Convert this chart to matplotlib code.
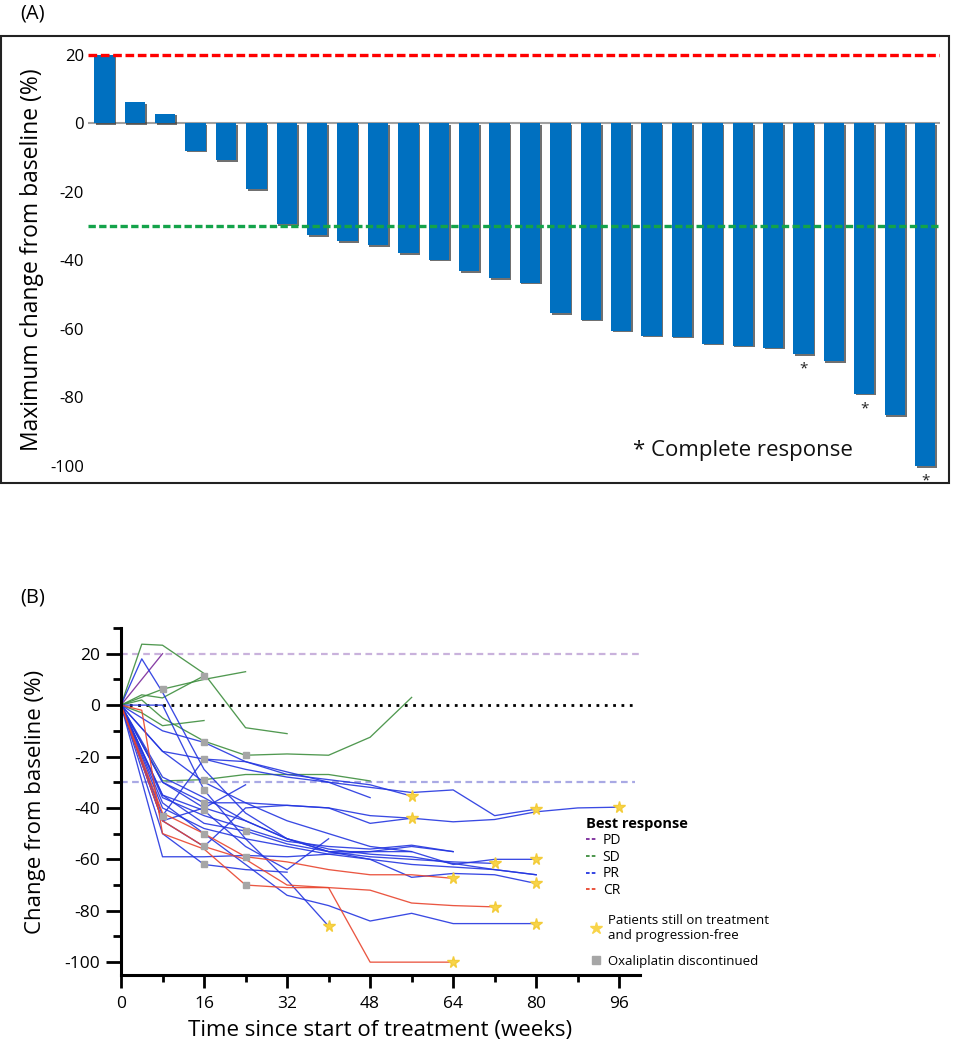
import numpy as np
import matplotlib.pyplot as plt
import matplotlib.patheffects as pe
from matplotlib.lines import Line2D
from matplotlib.patches import Rectangle

plt.rcParams['font.family'] = ['Open Sans', 'DejaVu Sans']
plt.rcParams['axes.unicode_minus'] = False

# ---- panel A: best (maximum) change from baseline, one bar per patient
max_change = [20, 6.2, 2.8, -8, -10.8, -19.2, -29.5, -32.7, -34.4, -35.6, -37.9,
              -39.8, -43.2, -45.2, -46.5, -55.4, -57.3, -60.5, -62, -62.3, -64.3,
              -64.9, -65.5, -67.4, -69.5, -78.9, -85.2, -100]
complete_resp = [23, 25, 27]
a_yticks = [20, 0, -20, -40, -60, -80, -100]

# ---- panel B: change from baseline over time, one line per patient
resp = ['PD'] + ['SD'] * 6 + ['PR'] * 18 + ['CR'] * 3
weeks = [
    [0, 8],
    [0, 4, 8, 16, 24, 32],
    [0, 4, 8, 16],
    [0, 8, 16, 24],
    [0, 4, 8, 16, 24, 32, 40, 48, 56],
    [0, 8, 16, 24, 32, 40, 48],
    [0, 4, 8, 16],
    [0, 4, 8, 16, 24, 32, 40, 48, 56, 64, 72, 80],
    [0, 8, 16, 24, 32, 40],
    [0, 8, 16, 24, 32, 40, 48, 56, 64],
    [0, 8, 16, 24, 32, 40, 48, 56, 64, 72, 80],
    [0, 8, 16, 24, 32, 40],
    [0, 8, 16, 24, 32, 40, 48, 56],
    [0, 8, 16, 24, 32, 40, 48, 56, 64, 72, 80],
    [0, 8, 16, 24, 32, 40, 48, 56, 64, 72, 80, 88, 96],
    [0, 8, 16, 24, 32, 40, 48, 56],
    [0, 8, 16, 24, 32, 40, 48, 56, 64, 72, 80],
    [0, 8, 16, 24, 32, 40, 48, 56, 64, 72, 80],
    [0, 8, 16, 24, 32, 40, 48, 56, 64, 72, 80],
    [0, 8, 16, 24, 32, 40, 48, 56, 64, 72],
    [0, 8, 16, 24],
    [0, 8, 16, 24, 32, 40, 48, 56, 64],
    [0, 8, 16, 24, 32],
    [0, 8, 16, 24, 32, 40, 48],
    [0, 8, 16, 24, 32, 40, 48, 56],
    [0, 4, 8, 16, 24, 32, 40, 48, 56, 64],
    [0, 8, 16, 24, 32, 40, 48, 56, 64, 72],
    [0, 8, 16, 24, 32, 40, 48, 56, 64],
]
change = [
    [0, 20],
    [0, 23.7, 23.3, 12.3, -8.8, -11.1],
    [0, 4, 2.8, 11.4],
    [0, 6.2, 10, 13],
    [0, 2, -5, -14, -19.5, -19, -19.5, -12.5, 3],
    [0, -29.5, -29, -27, -27, -27, -29.5],
    [0, -3, -8, -6],
    [0, 18, 5, -25, -42, -52, -57, -60, -62, -63, -64, -66],
    [0, 0, -33, -52, -68, -86],
    [0, -59, -59, -58.5, -59, -58, -57, -55, -57],
    [0, -38, -50, -62, -74, -78, -84, -81, -85, -85, -85],
    [0, -35, -41, -55, -64, -52],
    [0, -10, -14.5, -22, -27, -29, -31, -35.4],
    [0, -18, -21, -25, -28, -30, -32, -34, -33, -43, -40.5],
    [0, -30, -38, -38, -39, -40, -43, -44, -45.4, -44.5, -41.5, -40, -39.7],
    [0, -45, -55, -40, -39, -40, -46, -44],
    [0, -35, -46, -49, -54, -57, -57, -57, -62, -60, -60],
    [0, -30, -40, -45, -52, -56, -58, -59, -61.6, -64, -66],
    [0, -40, -48, -52, -55, -58, -60, -67, -65.5, -66, -69.4],
    [0, -28, -36, -45, -52, -57, -59, -60, -61, -61.6],
    [0, -45, -40, -31],
    [0, -36, -43, -48, -53, -55, -56, -54.5, -57],
    [0, -50, -62, -64, -65],
    [0, -43, -21, -22, -26, -30, -36],
    [0, -18, -30, -38, -45, -50, -55, -57],
    [0, -2, -50, -56, -70, -71, -71, -100, -100, -100],
    [0, -45, -55, -60, -70, -71, -72, -77, -78, -78.5],
    [0, -42, -50, -59, -61, -64, -66, -66, -67.4],
]
# week at which oxaliplatin was stopped (grey square), None if not
oxali_stop = [None, None, 16, 8, 24, 16, None, None, 16, None, 16, 16, 16, 16,
              16, 16, 24, None, None, None, None, None, 16, 8, None, 24, None, 24]
still_on = [False, False, False, False, False, False, False, False, True, False,
            True, False, True, True, True, True, True, False, True, True, False,
            False, False, False, False, True, True, True]

resp_colors = {'PD': '#7B2A9B', 'SD': '#3E8E3E', 'PR': '#2436E0', 'CR': '#E8452E'}
bar_color = '#0070C0'
star_color = '#f8d449'

fig = plt.figure(figsize=(9.58, 10.5), dpi=100)

# ================= (A) waterfall
axA = fig.add_axes([88 / 958, 1 - 483 / 1050, 852 / 958, 447 / 1050])
x = np.arange(len(max_change))
bars = axA.bar(x, max_change, width=0.67, color=bar_color, zorder=3)
for b in bars:
    b.set_path_effects([pe.SimplePatchShadow(offset=(1.2, -1.2), shadow_rgbFace='#333333', alpha=0.7),
                        pe.Normal()])
axA.axhline(0, color='#a0a0a0', lw=1.5, zorder=2)
axA.axhline(20, color='#ff0000', lw=2.4, ls=(0, (2.6, 1.1)), zorder=4)
axA.axhline(-30, color='#14a34a', lw=2.4, ls=(0, (2.2, 1.0)), zorder=4)
for i in complete_resp:
    axA.text(i, max_change[i] - 2.2, '*', ha='center', va='top', fontsize=11, color='#222222')
axA.text(17.4, -95.5, '* Complete response', fontsize=16, va='center', ha='left', color='#111111')
axA.set_xlim(-0.54, 27.49)
axA.set_ylim(-105, 25.5)
axA.set_yticks(a_yticks)
axA.set_yticklabels([str(t) for t in a_yticks], fontsize=12)
axA.tick_params(axis='y', length=0, pad=3)
axA.set_xticks([])
for s in axA.spines.values():
    s.set_visible(False)
axA.set_ylabel('Maximum change from baseline (%)', fontsize=16.5)
axA.yaxis.set_label_coords(-44 / 852, 0.5)
fig.patches.append(Rectangle((1 / 958, 1 - 483 / 1050), 948 / 958, 447 / 1050,
                             transform=fig.transFigure, fill=False, ec='#222222', lw=1.5))
fig.text(20 / 958, 1 - 14 / 1050, '(A)', fontsize=14.5, va='center', ha='left')

# ================= (B) spider plot
axB = fig.add_axes([121 / 958, 1 - 975 / 1050, 519 / 958, 347 / 1050])
axB.axhline(20, xmax=1.0, color='#c9b2dc', lw=1.6, ls=(0, (3, 2)), zorder=1)
axB.axhline(0, xmax=0.99, color='black', lw=2.0, ls=(0, (1, 2)), zorder=1)
axB.axhline(-30, xmax=0.99, color='#a9a9e4', lw=1.6, ls=(0, (3, 2)), zorder=1)

for r, w, c in zip(resp, weeks, change):
    axB.plot(w, c, color=resp_colors[r], lw=0.95, alpha=0.9, zorder=2)
for w, c, o in zip(weeks, change, oxali_stop):
    if o is not None:
        k = w.index(o)
        axB.plot(o, c[k], 's', color='#a6a6a6', ms=4, zorder=3)
for w, c, s in zip(weeks, change, still_on):
    if s:
        axB.plot(w[-1], c[-1], '*', color=star_color, ms=8.5, mec='#f3cc3a', zorder=4)

axB.set_xlim(0, 100)
axB.set_ylim(-105, 30)
axB.set_xticks(np.arange(0, 97, 16))
axB.set_xticks(np.arange(8, 97, 16), minor=True)
axB.set_yticks(np.arange(-100, 21, 20))
axB.set_yticks(np.arange(-90, 31, 20), minor=True)
axB.tick_params(axis='both', which='major', width=2, labelsize=12.5, colors='black')
axB.tick_params(axis='x', which='major', length=9, pad=6)
axB.tick_params(axis='y', which='major', length=11, pad=4)
axB.tick_params(axis='x', which='minor', length=5, width=2)
axB.tick_params(axis='y', which='minor', length=6, width=2)
axB.spines['top'].set_visible(False)
axB.spines['right'].set_visible(False)
axB.spines['left'].set_linewidth(2.2)
axB.spines['bottom'].set_linewidth(2.2)
axB.set_xlabel('Time since start of treatment (weeks)', fontsize=16, labelpad=6)
axB.set_ylabel('Change from baseline (%)', fontsize=16, labelpad=13)
fig.text(20 / 958, 1 - 597 / 1050, '(B)', fontsize=14.5, va='center', ha='left')

h1 = [Line2D([], [], color=resp_colors[k], lw=1.3, ls=(0, (2, 1.2))) for k in ['PD', 'SD', 'PR', 'CR']]
leg1 = axB.legend(h1, ['PD', 'SD', 'PR', 'CR'], title='Best response', loc='upper left',
                  bbox_to_anchor=(0.88, 0.478), frameon=False, fontsize=10,
                  handlelength=0.8, handletextpad=0.4, labelspacing=0.12,
                  alignment='left', borderpad=0.1,
                  title_fontproperties={'weight': 'bold', 'size': 10.5})
axB.add_artist(leg1)
h2 = [Line2D([], [], ls='none', marker='*', color=star_color, ms=9),
      Line2D([], [], ls='none', marker='s', color='#a6a6a6', ms=6)]
axB.legend(h2, ['Patients still on treatment\nand progression-free', 'Oxaliplatin discontinued'],
           loc='upper left', bbox_to_anchor=(0.89, 0.20), frameon=False, fontsize=9.5,
           handlelength=0.8, handletextpad=0.5, labelspacing=1.0, borderpad=0.1)

fig.savefig('out.png', dpi=100)
